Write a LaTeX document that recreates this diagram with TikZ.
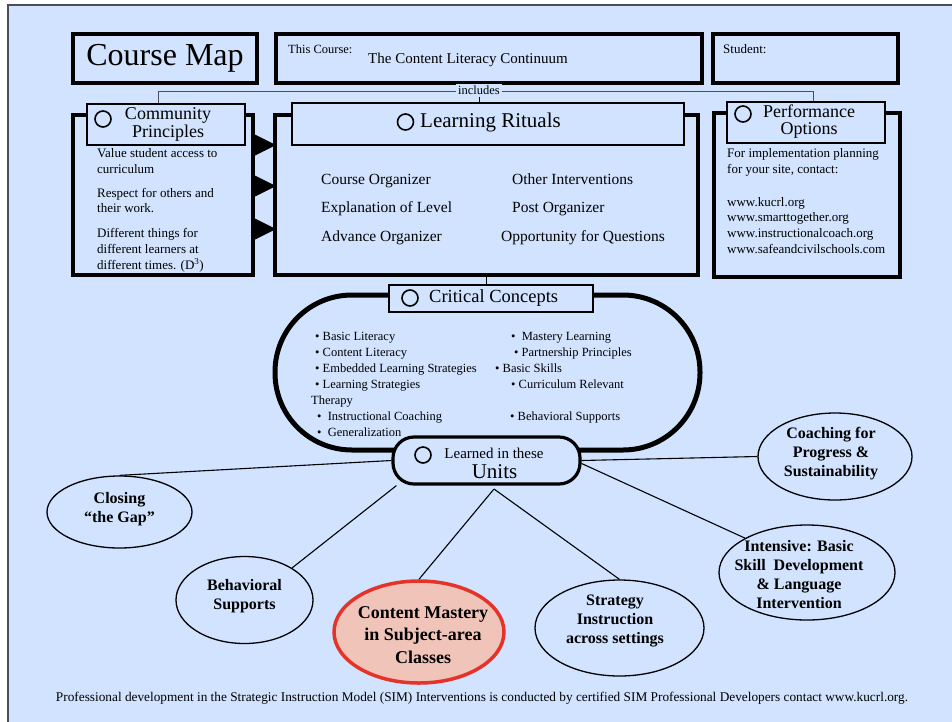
\documentclass[tikz,border=0pt]{standalone}
\usepackage{fontspec}
\setmainfont{Liberation Serif}
\usetikzlibrary{shapes.geometric}
\definecolor{bg}{HTML}{D1E3FE}
\definecolor{rimred}{HTML}{E53329}
\definecolor{salmon}{HTML}{F0C4B8}
\definecolor{frameg}{HTML}{4A4E5A}
\newcommand{\fsz}[2]{\fontsize{#1}{#2}\selectfont}
\begin{document}
\begin{tikzpicture}[x=1pt,y=-1pt,
  bigbox/.style={draw, line width=3.5pt, fill=bg, inner sep=0pt},
  titlebox/.style={draw, line width=1.8pt, fill=bg, inner sep=0pt},
  ring/.style={draw, circle, line width=1.6pt, minimum size=16pt, inner sep=0pt},
  txt/.style={anchor=base west, inner sep=0pt, font=\fsz{13}{15}},
  cctxt/.style={anchor=base west, inner sep=0pt, font=\fsz{12.5}{15}},
  lrtxt/.style={anchor=base west, inner sep=0pt, font=\fsz{15.5}{18}},
  oval/.style={draw, ellipse, line width=1.3pt, fill=bg, inner sep=0pt},
  ovaltxt/.style={align=center, inner sep=0pt, font=\bfseries\fsz{16}{19}},
  link/.style={line width=1.1pt}]
\useasboundingbox (0,0) rectangle (952,721);
\fill[white] (0,0) rectangle (952,721);
\draw[frameg, line width=1.2pt, fill=bg] (8,5) rectangle (975,745);

% top row
\node[bigbox, minimum width=184pt, minimum height=49pt, font=\fsz{32}{36}] (cmap) at (165,58.5) {Course Map};
\node[bigbox, minimum width=426pt, minimum height=49pt] (course) at (489,58.5) {};
\node[txt, font=\fsz{12.5}{14}] (coursel) at (288,53) {This Course:};
\node[txt, font=\fsz{15}{17}] (coursen) at (368,63) {The Content Literacy Continuum};
\node[bigbox, minimum width=185pt, minimum height=49pt] (student) at (805.5,58.5) {};
\node[txt] (studentl) at (723,53) {Student:};

% includes bracket
\coordinate (incl) at (158,91);
\coordinate (incr) at (813,91);
\coordinate (incldown) at (158,104);
\coordinate (incrdown) at (813,102);
\draw[frameg, line width=1pt] (incldown) -- (incl) -- (incr) -- (incrdown);
\node[fill=bg, inner sep=2pt, font=\fsz{12.5}{14}] (inc) at (479,90) {includes};

% Community Principles
\node[bigbox, minimum width=180pt, minimum height=160pt] (cp) at (163,195) {};
\node[titlebox, minimum width=158pt, minimum height=41pt] (cpt) at (166,124.5) {};
\node[align=center, font=\fsz{18}{17.5}, inner sep=0pt] (cptx) at (168,124.5) {Community\\Principles};
\node[ring] (cpr) at (103,119) {};
\node[txt] (cp1) at (97,157) {Value student access to};
\node[txt] (cp2) at (97,173) {curriculum};
\node[txt] (cp3) at (97,197) {Respect for others and};
\node[txt] (cp4) at (97,212) {their work.};
\node[txt] (cp5) at (97,237) {Different things for};
\node[txt] (cp6) at (97,253) {different learners at};
\node[txt] (cp7) at (97,269) {different times. (D\textsuperscript{3})};

% Learning Rituals
\node[bigbox, minimum width=423pt, minimum height=160pt] (lr) at (486.5,195) {};
\node[titlebox, minimum width=392pt, minimum height=42pt] (lrt) at (488,124) {};
\node[ring] (lrr) at (405.5,122) {};
\node[anchor=west, inner sep=0pt, font=\fsz{21}{23}] (lrtx) at (420,122) {Learning Rituals};
\node[lrtxt] (lr1) at (321,184) {Course Organizer};
\node[lrtxt] (lr2) at (321,212) {Explanation of Level};
\node[lrtxt] (lr3) at (321,241) {Advance Organizer};
\node[lrtxt] (lr4) at (512,184) {Other Interventions};
\node[lrtxt] (lr5) at (512,212) {Post Organizer};
\node[lrtxt] (lr6) at (501,241) {Opportunity for Questions};
\draw[line width=1pt] (inc.south) -- (inc.south |- lrt.north);

% Performance Options
\node[bigbox, minimum width=186pt, minimum height=164pt] (po) at (807,195) {};
\node[titlebox, minimum width=158pt, minimum height=41pt] (pot) at (806,122.5) {};
\node[align=center, font=\fsz{18}{17.5}, inner sep=0pt] (potx) at (809,121.5) {Performance\\Options};
\node[ring] (por) at (743,114) {};
\node[txt] (po1) at (727,157) {For implementation planning};
\node[txt] (po2) at (727,173) {for your site, contact:};
\node[txt] (po3) at (727,206) {www.kucrl.org};
\node[txt] (po4) at (727,221) {www.smarttogether.org};
\node[txt] (po5) at (727,237) {www.instructionalcoach.org};
\node[txt] (po6) at (727,253) {www.safeandcivilschools.com};

% arrows between Community and Rituals
\fill (254,134) -- (276,145) -- (254,156) -- cycle;
\fill (254,175) -- (276,186) -- (254,197) -- cycle;
\fill (254,218) -- (276,229) -- (254,240) -- cycle;

% Critical Concepts
\node[draw, line width=5pt, rounded corners=77pt, minimum width=425pt, minimum height=155pt, inner sep=0pt] (cc) at (487.5,372.5) {};
\node[titlebox, minimum width=204pt, minimum height=27pt] (cct) at (491,298.5) {};
\draw[line width=1pt] (lr.south) -- (lr.south |- cct.north);
\node[ring] (ccr) at (410,298) {};
\node[anchor=west, inner sep=0pt, font=\fsz{18.5}{20}] (cctx) at (429,298) {Critical Concepts};
\node[cctxt] (c1) at (315,340) {• Basic Literacy};
\node[cctxt] (c2) at (315,356) {• Content Literacy};
\node[cctxt] (c3) at (315,372) {• Embedded Learning Strategies};
\node[cctxt] (c4) at (315,388) {• Learning Strategies};
\node[cctxt] (c5) at (311,404) {Therapy};
\node[cctxt] (c6) at (317,420) {•\ \ Instructional Coaching};
\node[cctxt] (c7) at (317,436) {•\ \ Generalization};
\node[cctxt] (c8) at (511,340) {•\ \ Mastery Learning};
\node[cctxt] (c9) at (514,356) {• Partnership Principles};
\node[cctxt] (c10) at (495,372) {• Basic Skills};
\node[cctxt] (c11) at (511,388) {• Curriculum Relevant};
\node[cctxt] (c12) at (510,420) {• Behavioral Supports};

% Learned in these Units
\node[draw, line width=3.2pt, fill=bg, rounded corners=21pt, minimum width=187pt, minimum height=47pt, inner sep=0pt] (units) at (486.5,460.5) {};
\node[ring] (ur) at (423,455) {};
\node[inner sep=0pt, font=\fsz{15}{17}] (ut1) at (494,453.5) {Learned in these};
\node[inner sep=0pt, font=\fsz{21}{23}] (ut2) at (494.5,472) {Units};

% unit ellipses
\node[oval, minimum width=145pt, minimum height=72pt] (gap) at (119.5,512) {};
\node[ovaltxt] (gapt) at (119.5,509) {Closing\\“the Gap”};
\node[oval, minimum width=137pt, minimum height=87pt] (bs) at (244.5,600) {};
\node[ovaltxt] (bst) at (244.5,596) {Behavioral\\Supports};
\node[oval, draw=rimred, line width=3.5pt, fill=salmon, minimum width=170pt, minimum height=102pt] (cm) at (419,632) {};
\node[ovaltxt, font=\bfseries\fsz{18}{22.5}] (cmt) at (423,635) {Content Mastery\\in Subject-area\\Classes};
\node[oval, minimum width=169pt, minimum height=96pt] (st) at (619.5,628) {};
\node[ovaltxt] (stt) at (615,621) {Strategy\\Instruction\\across settings};
\node[oval, minimum width=176pt, minimum height=95pt] (iv) at (807,572.5) {};
\node[ovaltxt] (ivt) at (799,575) {Intensive: Basic\\Skill\ \ Development\\\& Language\\Intervention};
\node[oval, minimum width=154pt, minimum height=87pt] (co) at (835,456.5) {};
\node[ovaltxt] (cot) at (831,454) {Coaching for\\Progress \&\\Sustainability};

% connectors
\coordinate (apex) at (494,489);
\draw[link] (units.west) -- (gap.north);
\draw[link] ([xshift=5pt]units.south west) -- (bs.34);
\draw[link] (apex) -- (cm.north);
\draw[link] (apex) -- (st.north);
\draw[link] (units.east) -- (co.west);
\draw[link] ([yshift=-3pt]units.east) -- (iv.151);

% footer
\node[inner sep=0pt, font=\fsz{13.3}{15}] (foot) at (482,698) {Professional development in the Strategic Instruction Model (SIM) Interventions is conducted by certified SIM Professional Developers contact www.kucrl.org.};
\end{tikzpicture}
\end{document}
